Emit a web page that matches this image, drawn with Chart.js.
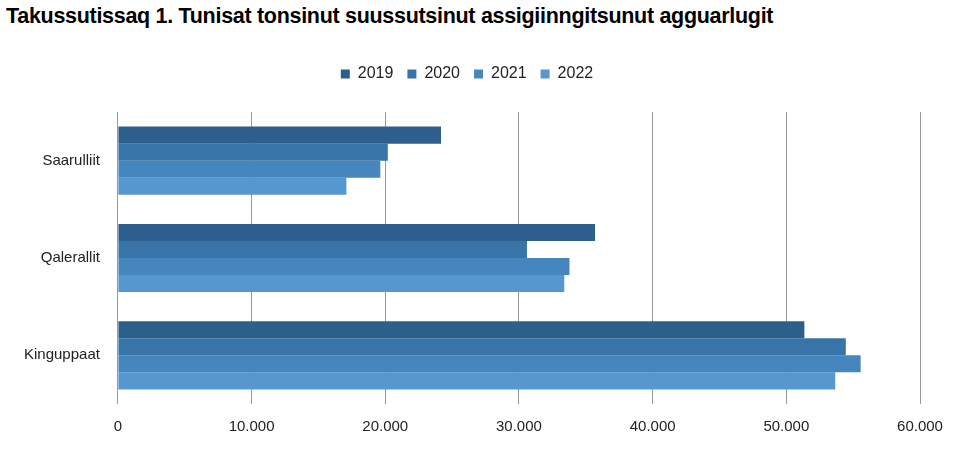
<!DOCTYPE html>
<html><head><meta charset="utf-8">
<script src="https://cdn.jsdelivr.net/npm/chart.js@4"></script>
<style>body{margin:0;background:#fff;width:960px;height:462px;overflow:hidden;font-family:"Liberation Sans",Arial,sans-serif}
h1{position:absolute;left:6px;top:4px;margin:0;font-size:21.5px;font-weight:bold;letter-spacing:-0.3px}
#w{position:absolute;left:0;top:50px;width:960px;height:412px}</style></head>
<body><h1>Takussutissaq 1. Tunisat tonsinut suussutsinut assigiinngitsunut agguarlugit</h1>
<div id="w"><canvas id="c"></canvas></div>
<script>
const categories=["Saarulliit","Qalerallit","Kinguppaat"];
const seriesNames=["2019","2020","2021","2022"];
const v2019=[24170,35690,51350];
const v2020=[20190,30600,54450];
const v2021=[19630,33780,55560];
const v2022=[17090,33390,53660];
const colors=["#2d5f8d","#3874a8","#4686bf","#5697cf"];
const vals=[v2019,v2020,v2021,v2022];
const legendPad={id:'lp',beforeInit(chart){const f=chart.legend.fit;chart.legend.fit=function(){f.bind(this)();this.height+=20;};}};
new Chart(document.getElementById('c'),{type:'bar',plugins:[legendPad],
data:{labels:categories,datasets:seriesNames.map((n,i)=>({label:n,data:vals[i],backgroundColor:colors[i],categoryPercentage:0.7,barPercentage:1}))},
options:{indexAxis:'y',responsive:true,maintainAspectRatio:false,animation:false,
layout:{padding:{left:14,right:40,top:2,bottom:12}},
plugins:{legend:{position:'top',labels:{boxWidth:9,boxHeight:9,padding:14,color:'#222',font:{size:16,family:'Liberation Sans'}}},tooltip:{enabled:false}},
scales:{x:{min:0,max:60000,ticks:{stepSize:10000,color:'#222',font:{size:15,family:'Liberation Sans'},padding:14,callback:v=>v===0?'0':v.toLocaleString('de-DE',{minimumFractionDigits:3}).replace(/,000$/,'')},grid:{color:'#999',drawTicks:false},border:{display:false}},
y:{ticks:{color:'#222',font:{size:15,family:'Liberation Sans'},padding:10},grid:{display:false},border:{display:false}}}}});
</script></body></html>
